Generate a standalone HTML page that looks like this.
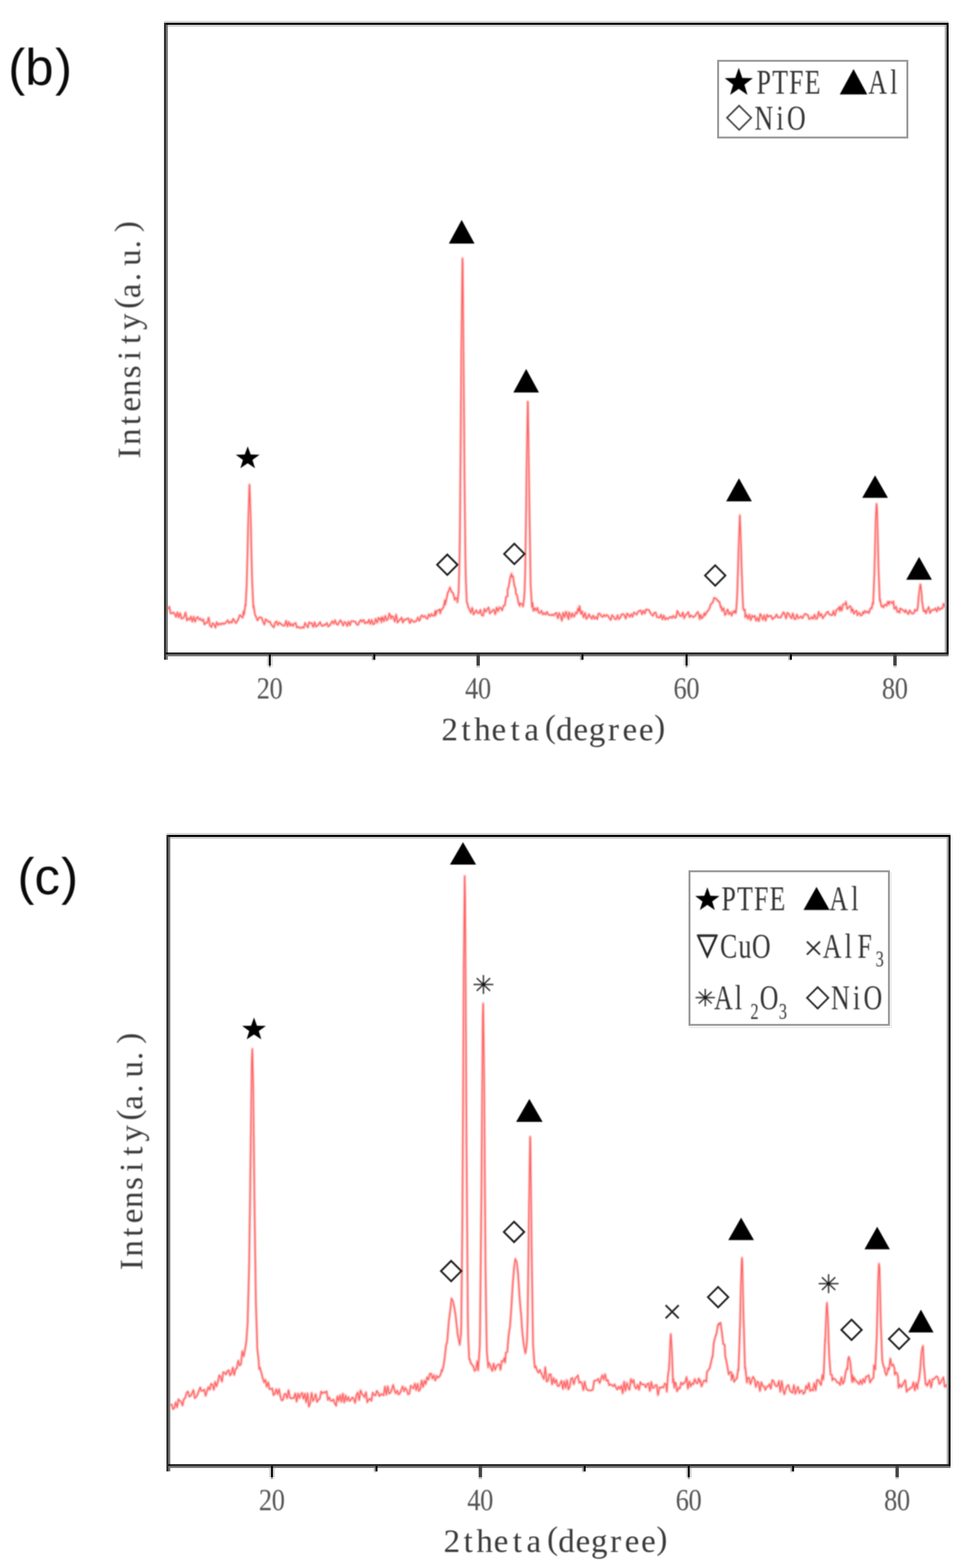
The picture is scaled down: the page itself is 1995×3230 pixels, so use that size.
<!DOCTYPE html>
<html lang="en"><head><meta charset="utf-8"><title>XRD patterns (b) and (c)</title>
<style>html,body{margin:0;padding:0;background:#fff}body{width:1995px;height:3230px;overflow:hidden}svg{display:block}text{white-space:pre}</style>
</head><body>
<svg width="1995" height="3230" viewBox="0 0 1995 3230" role="img" aria-label="XRD patterns, panels (b) and (c)">
<rect x="0" y="0" width="1995" height="3230" fill="#fff"/>
<defs><filter id="soft" filterUnits="userSpaceOnUse" x="0" y="0" width="1995" height="3230" color-interpolation-filters="sRGB"><feGaussianBlur stdDeviation="0.85"/></filter></defs>
<g id="chart-b">
<g filter="url(#soft)">
<path d="M346.0,1254.9L348.8,1250.3L351.6,1263.3L354.4,1263.2L357.2,1261.9L360.0,1264.3L362.8,1270.4L365.6,1261.4L368.4,1271.9L371.2,1263.0L374.0,1274.2L376.8,1273.3L379.6,1270.8L382.4,1261.6L385.2,1277.8L388.0,1273.9L390.8,1276.5L393.6,1269.9L396.4,1280.5L399.2,1270.5L402.0,1281.0L404.8,1272.8L407.6,1271.2L410.4,1276.1L413.2,1274.4L416.0,1278.5L418.8,1276.1L421.6,1286.1L424.4,1282.8L427.2,1282.8L430.0,1272.0L432.8,1288.5L435.6,1291.5L438.4,1283.9L441.2,1285.9L444.0,1292.3L446.8,1282.2L449.6,1287.3L452.4,1284.5L455.2,1286.5L458.0,1283.7L460.8,1285.5L463.6,1284.1L466.4,1281.5L469.2,1278.0L472.0,1283.4L474.8,1280.7L477.6,1282.6L480.4,1275.0L483.2,1278.8L486.0,1283.3L488.8,1279.9L491.6,1274.1L494.4,1267.2L497.2,1269.7L500.0,1271.9L502.2,1258.6L502.8,1266.7L505.6,1246.2L506.2,1247.0L508.4,1205.0L510.2,1137.8L511.2,1090.5L514.0,1001.6L514.2,998.3L516.8,1071.9L518.2,1138.7L519.6,1195.2L522.2,1251.8L522.4,1246.1L525.2,1264.3L526.2,1267.6L528.0,1271.2L530.8,1277.7L533.6,1272.7L536.4,1271.5L539.2,1272.8L542.0,1280.1L544.8,1286.1L547.6,1275.7L550.4,1278.0L553.2,1281.0L556.0,1280.5L558.8,1286.2L561.6,1289.7L564.4,1292.0L567.2,1282.4L570.0,1280.3L572.8,1287.2L575.6,1282.7L578.4,1284.9L581.2,1287.0L584.0,1288.9L586.8,1288.2L589.6,1278.9L592.4,1290.2L595.2,1281.0L598.0,1288.7L600.8,1285.1L603.6,1289.2L606.4,1284.8L609.2,1283.5L612.0,1292.7L614.8,1291.2L617.6,1293.2L620.4,1293.5L623.2,1291.8L626.0,1293.1L628.8,1283.7L631.6,1288.2L634.4,1292.1L637.2,1282.2L640.0,1283.6L642.8,1284.0L645.6,1291.6L648.4,1281.9L651.2,1290.7L654.0,1289.0L656.8,1286.1L659.6,1281.8L662.4,1288.1L665.2,1289.6L668.0,1286.7L670.8,1287.3L673.6,1283.4L676.4,1290.4L679.2,1288.4L682.0,1284.5L684.8,1280.0L687.6,1284.4L690.4,1278.0L693.2,1284.7L696.0,1286.9L698.8,1282.2L701.6,1277.9L704.4,1281.8L707.2,1288.2L710.0,1281.4L712.8,1282.8L715.6,1289.1L718.4,1281.0L721.2,1287.5L724.0,1279.7L726.8,1279.3L729.6,1280.5L732.4,1280.6L735.2,1286.3L738.0,1287.0L740.8,1280.9L743.6,1277.4L746.0,1280.5L746.4,1279.7L749.2,1277.2L752.0,1284.0L754.8,1281.5L757.6,1283.0L760.4,1277.1L763.2,1285.4L766.0,1277.1L768.8,1285.8L771.6,1284.7L774.4,1274.5L777.2,1283.0L780.0,1273.0L782.8,1276.8L785.6,1272.2L786.0,1282.0L788.4,1271.0L791.2,1280.1L794.0,1268.5L796.8,1277.6L799.6,1275.3L802.4,1264.3L805.2,1269.6L806.0,1274.5L808.0,1269.4L810.8,1271.2L813.6,1280.5L816.4,1265.9L819.2,1282.0L822.0,1278.7L824.8,1275.5L826.0,1275.7L827.6,1272.0L830.4,1282.6L833.2,1276.2L836.0,1276.8L838.8,1274.4L841.6,1273.7L844.4,1283.1L846.0,1282.2L847.2,1276.2L850.0,1278.5L852.8,1281.0L855.6,1280.6L858.4,1278.5L861.2,1272.4L864.0,1278.6L866.0,1275.9L866.8,1270.7L869.6,1267.6L872.4,1270.9L875.2,1268.8L878.0,1272.8L880.8,1274.5L883.6,1265.8L886.4,1270.0L889.2,1264.9L892.0,1268.6L894.8,1268.0L897.3,1258.0L897.6,1267.8L900.4,1258.5L903.2,1257.8L906.0,1255.4L907.3,1263.7L908.8,1256.5L911.6,1254.5L914.4,1249.5L917.2,1235.7L917.3,1246.1L920.0,1234.7L922.8,1221.2L925.6,1215.5L927.3,1210.0L928.4,1213.4L931.2,1219.5L934.0,1222.3L936.8,1233.4L937.3,1235.3L939.6,1231.7L942.4,1233.8L942.6,1240.8L945.2,1220.0L946.1,1189.3L947.3,1139.1L948.0,1080.2L949.6,892.8L950.8,722.4L953.1,532.3L953.6,542.0L956.4,868.3L956.6,893.5L957.3,986.0L959.2,1153.3L960.1,1195.6L962.0,1240.3L963.6,1244.0L964.8,1249.8L967.6,1255.6L970.4,1262.0L973.2,1252.0L976.0,1265.5L978.8,1261.5L981.6,1257.3L984.4,1262.7L987.2,1262.9L990.0,1256.8L992.8,1267.0L995.6,1268.2L998.4,1254.6L1001.2,1259.9L1004.0,1255.5L1006.8,1251.6L1009.6,1263.4L1012.4,1260.7L1015.2,1257.8L1018.0,1255.9L1020.8,1265.5L1023.6,1251.3L1026.4,1259.2L1029.1,1251.2L1029.2,1252.6L1032.0,1252.0L1034.8,1257.0L1037.6,1248.2L1040.4,1246.8L1043.2,1229.5L1046.0,1228.3L1046.1,1215.5L1048.8,1206.3L1051.6,1189.5L1054.4,1181.5L1054.6,1188.1L1057.2,1187.1L1060.0,1205.7L1062.8,1214.1L1063.1,1222.7L1065.6,1225.9L1068.4,1240.9L1071.2,1248.4L1071.6,1242.6L1074.0,1243.8L1076.8,1244.8L1078.0,1249.6L1079.6,1236.3L1080.1,1233.2L1081.2,1216.4L1082.4,1179.7L1084.5,1040.7L1085.2,973.3L1087.7,827.9L1088.0,828.2L1090.8,1028.4L1091.0,1041.6L1093.6,1204.2L1094.2,1214.5L1096.4,1250.9L1097.5,1241.2L1099.2,1258.4L1102.0,1252.7L1104.8,1257.5L1107.6,1252.3L1110.4,1262.1L1113.2,1262.6L1116.0,1258.3L1118.8,1265.4L1121.6,1263.0L1124.4,1265.7L1127.2,1260.8L1130.0,1266.0L1132.8,1266.7L1135.6,1267.5L1138.4,1265.8L1141.2,1267.8L1144.0,1264.0L1146.8,1262.7L1149.6,1273.8L1152.4,1263.4L1155.2,1268.3L1158.0,1278.6L1160.8,1262.0L1163.6,1271.6L1166.4,1260.1L1169.2,1267.8L1172.0,1275.9L1172.5,1261.3L1174.8,1264.9L1177.6,1271.5L1179.5,1263.7L1180.4,1265.2L1183.2,1270.0L1186.0,1263.7L1186.5,1261.9L1188.8,1263.7L1191.6,1252.9L1193.5,1260.1L1194.4,1248.3L1197.2,1263.9L1200.0,1259.9L1200.5,1264.4L1202.8,1271.9L1205.6,1262.3L1207.5,1270.8L1208.4,1274.5L1211.2,1271.9L1214.0,1265.7L1214.5,1267.4L1216.8,1270.5L1219.6,1274.3L1222.4,1268.3L1225.2,1274.2L1228.0,1270.8L1230.8,1275.0L1233.6,1264.1L1236.4,1264.5L1239.2,1268.8L1242.0,1271.0L1244.8,1266.7L1247.6,1269.5L1250.4,1266.7L1253.2,1269.0L1256.0,1273.7L1258.8,1276.8L1261.6,1267.4L1264.4,1270.5L1267.2,1275.1L1270.0,1275.5L1272.8,1267.6L1275.6,1275.1L1278.4,1272.2L1281.2,1265.6L1284.0,1265.2L1286.8,1267.2L1289.6,1274.4L1292.4,1264.1L1295.2,1266.6L1298.0,1270.3L1300.8,1265.4L1303.6,1270.2L1306.4,1261.9L1309.2,1263.3L1312.0,1266.0L1314.8,1260.6L1317.6,1258.2L1320.4,1257.8L1323.2,1264.9L1326.0,1258.3L1328.8,1263.4L1331.6,1255.6L1334.4,1256.2L1337.2,1256.8L1340.0,1261.6L1342.8,1266.0L1345.6,1268.3L1348.4,1262.5L1351.2,1261.8L1354.0,1271.3L1356.8,1271.5L1359.6,1272.0L1362.4,1266.6L1365.2,1275.2L1368.0,1268.3L1370.8,1275.9L1373.6,1273.0L1376.4,1275.2L1379.2,1272.4L1382.0,1270.7L1384.8,1272.9L1387.6,1268.8L1390.4,1272.2L1393.2,1271.8L1396.0,1258.9L1398.8,1263.6L1401.6,1268.5L1404.4,1269.0L1407.2,1261.6L1410.0,1273.7L1412.8,1266.9L1415.6,1264.8L1418.4,1261.1L1421.2,1271.0L1424.0,1267.8L1426.8,1269.9L1429.6,1271.1L1432.4,1268.6L1435.2,1264.4L1438.0,1260.9L1440.8,1267.0L1442.0,1275.6L1443.6,1266.3L1446.4,1273.5L1449.2,1270.1L1452.0,1262.5L1453.0,1267.4L1454.8,1264.1L1457.6,1259.4L1460.4,1256.4L1463.2,1251.2L1464.0,1246.9L1466.0,1243.3L1468.8,1241.5L1471.6,1231.9L1474.4,1232.9L1475.0,1232.5L1477.2,1235.0L1480.0,1238.3L1482.8,1239.9L1485.6,1252.4L1486.0,1248.6L1488.4,1257.9L1491.2,1252.4L1494.0,1266.5L1496.8,1264.0L1497.0,1260.3L1499.6,1255.8L1502.4,1264.8L1505.2,1261.5L1508.0,1267.8L1510.8,1260.0L1513.6,1261.5L1514.2,1257.5L1516.4,1263.0L1517.7,1251.7L1519.2,1228.3L1521.2,1166.2L1522.0,1136.9L1524.7,1063.8L1524.8,1061.6L1527.6,1138.1L1528.2,1163.8L1530.4,1226.8L1531.7,1253.8L1533.2,1256.9L1535.2,1256.0L1536.0,1271.6L1538.8,1266.8L1541.6,1274.9L1544.4,1266.1L1547.2,1277.6L1550.0,1268.3L1552.8,1271.2L1555.6,1268.6L1558.4,1278.3L1561.2,1273.1L1564.0,1279.6L1566.8,1265.2L1569.6,1269.4L1572.4,1276.7L1575.2,1267.2L1578.0,1278.6L1580.8,1266.8L1583.6,1270.5L1586.4,1268.7L1589.2,1268.7L1592.0,1275.4L1594.8,1272.4L1597.6,1271.3L1600.4,1266.1L1603.2,1271.7L1606.0,1271.6L1608.8,1272.1L1611.6,1266.9L1614.4,1261.6L1617.2,1264.4L1620.0,1274.1L1622.8,1262.6L1625.6,1264.6L1628.4,1269.7L1631.2,1273.4L1634.0,1263.5L1636.8,1274.6L1639.6,1275.3L1642.4,1265.9L1645.2,1273.3L1648.0,1271.9L1650.8,1269.7L1653.6,1273.3L1656.4,1268.6L1659.2,1264.5L1662.0,1265.7L1664.8,1266.9L1667.6,1274.8L1670.4,1274.5L1673.2,1271.1L1676.0,1274.3L1678.8,1266.2L1681.6,1274.7L1684.4,1273.7L1687.2,1260.3L1690.0,1268.7L1692.8,1265.2L1695.6,1273.3L1698.4,1269.5L1701.2,1266.0L1704.0,1261.6L1706.8,1260.4L1707.0,1262.8L1709.6,1265.7L1712.4,1267.1L1715.2,1266.9L1718.0,1258.3L1719.0,1265.1L1720.8,1267.2L1723.6,1257.1L1726.4,1254.8L1729.2,1251.4L1731.0,1258.6L1732.0,1248.9L1734.8,1257.8L1737.6,1245.0L1740.4,1244.2L1743.0,1244.9L1743.2,1239.3L1746.0,1254.0L1748.8,1251.5L1751.6,1248.6L1754.4,1252.1L1755.0,1260.7L1757.2,1254.3L1760.0,1263.8L1762.8,1259.4L1765.6,1258.4L1767.0,1267.0L1768.4,1264.7L1771.2,1262.5L1774.0,1267.9L1776.8,1266.3L1779.0,1260.1L1779.6,1264.4L1782.4,1258.4L1785.2,1261.7L1788.0,1259.8L1790.8,1262.7L1793.6,1254.1L1796.0,1251.8L1796.4,1253.9L1799.0,1240.1L1799.2,1240.8L1799.5,1244.8L1802.0,1183.4L1803.0,1146.1L1804.8,1071.2L1806.5,1037.8L1807.6,1049.6L1810.0,1146.3L1810.4,1167.0L1813.2,1237.9L1813.5,1234.0L1816.0,1246.4L1817.0,1249.4L1818.8,1248.4L1821.0,1251.0L1821.6,1247.1L1824.4,1245.6L1827.2,1247.8L1830.0,1239.0L1832.0,1245.5L1832.8,1239.8L1835.6,1239.8L1838.4,1242.9L1841.2,1239.2L1843.0,1253.1L1844.0,1254.1L1846.8,1250.0L1849.6,1260.6L1852.4,1258.8L1854.0,1262.4L1855.2,1253.7L1858.0,1254.7L1860.8,1257.0L1863.6,1258.9L1865.0,1260.9L1866.4,1256.9L1869.2,1261.7L1872.0,1264.9L1874.8,1257.5L1877.6,1261.9L1880.4,1264.1L1883.2,1263.1L1886.0,1256.2L1887.0,1258.2L1888.8,1257.4L1890.3,1257.2L1891.6,1250.1L1893.5,1227.6L1894.4,1220.8L1896.8,1203.6L1897.2,1204.8L1900.0,1230.1L1900.0,1236.2L1902.8,1253.9L1903.3,1258.3L1905.6,1259.7L1906.5,1256.6L1908.4,1263.0L1911.2,1256.4L1914.0,1251.0L1916.8,1262.4L1919.6,1257.9L1922.4,1256.0L1925.2,1256.6L1928.0,1253.2L1930.8,1259.2L1933.6,1251.4L1936.4,1256.2L1939.2,1252.9L1942.0,1253.2L1944.8,1244.0L1947.6,1250.8" fill="none" stroke="#ff6060" stroke-opacity="0.34" stroke-width="6.5" stroke-linejoin="round" stroke-linecap="butt"/>
<path d="M346.0,1254.9L348.8,1250.3L351.6,1263.3L354.4,1263.2L357.2,1261.9L360.0,1264.3L362.8,1270.4L365.6,1261.4L368.4,1271.9L371.2,1263.0L374.0,1274.2L376.8,1273.3L379.6,1270.8L382.4,1261.6L385.2,1277.8L388.0,1273.9L390.8,1276.5L393.6,1269.9L396.4,1280.5L399.2,1270.5L402.0,1281.0L404.8,1272.8L407.6,1271.2L410.4,1276.1L413.2,1274.4L416.0,1278.5L418.8,1276.1L421.6,1286.1L424.4,1282.8L427.2,1282.8L430.0,1272.0L432.8,1288.5L435.6,1291.5L438.4,1283.9L441.2,1285.9L444.0,1292.3L446.8,1282.2L449.6,1287.3L452.4,1284.5L455.2,1286.5L458.0,1283.7L460.8,1285.5L463.6,1284.1L466.4,1281.5L469.2,1278.0L472.0,1283.4L474.8,1280.7L477.6,1282.6L480.4,1275.0L483.2,1278.8L486.0,1283.3L488.8,1279.9L491.6,1274.1L494.4,1267.2L497.2,1269.7L500.0,1271.9L502.2,1258.6L502.8,1266.7L505.6,1246.2L506.2,1247.0L508.4,1205.0L510.2,1137.8L511.2,1090.5L514.0,1001.6L514.2,998.3L516.8,1071.9L518.2,1138.7L519.6,1195.2L522.2,1251.8L522.4,1246.1L525.2,1264.3L526.2,1267.6L528.0,1271.2L530.8,1277.7L533.6,1272.7L536.4,1271.5L539.2,1272.8L542.0,1280.1L544.8,1286.1L547.6,1275.7L550.4,1278.0L553.2,1281.0L556.0,1280.5L558.8,1286.2L561.6,1289.7L564.4,1292.0L567.2,1282.4L570.0,1280.3L572.8,1287.2L575.6,1282.7L578.4,1284.9L581.2,1287.0L584.0,1288.9L586.8,1288.2L589.6,1278.9L592.4,1290.2L595.2,1281.0L598.0,1288.7L600.8,1285.1L603.6,1289.2L606.4,1284.8L609.2,1283.5L612.0,1292.7L614.8,1291.2L617.6,1293.2L620.4,1293.5L623.2,1291.8L626.0,1293.1L628.8,1283.7L631.6,1288.2L634.4,1292.1L637.2,1282.2L640.0,1283.6L642.8,1284.0L645.6,1291.6L648.4,1281.9L651.2,1290.7L654.0,1289.0L656.8,1286.1L659.6,1281.8L662.4,1288.1L665.2,1289.6L668.0,1286.7L670.8,1287.3L673.6,1283.4L676.4,1290.4L679.2,1288.4L682.0,1284.5L684.8,1280.0L687.6,1284.4L690.4,1278.0L693.2,1284.7L696.0,1286.9L698.8,1282.2L701.6,1277.9L704.4,1281.8L707.2,1288.2L710.0,1281.4L712.8,1282.8L715.6,1289.1L718.4,1281.0L721.2,1287.5L724.0,1279.7L726.8,1279.3L729.6,1280.5L732.4,1280.6L735.2,1286.3L738.0,1287.0L740.8,1280.9L743.6,1277.4L746.0,1280.5L746.4,1279.7L749.2,1277.2L752.0,1284.0L754.8,1281.5L757.6,1283.0L760.4,1277.1L763.2,1285.4L766.0,1277.1L768.8,1285.8L771.6,1284.7L774.4,1274.5L777.2,1283.0L780.0,1273.0L782.8,1276.8L785.6,1272.2L786.0,1282.0L788.4,1271.0L791.2,1280.1L794.0,1268.5L796.8,1277.6L799.6,1275.3L802.4,1264.3L805.2,1269.6L806.0,1274.5L808.0,1269.4L810.8,1271.2L813.6,1280.5L816.4,1265.9L819.2,1282.0L822.0,1278.7L824.8,1275.5L826.0,1275.7L827.6,1272.0L830.4,1282.6L833.2,1276.2L836.0,1276.8L838.8,1274.4L841.6,1273.7L844.4,1283.1L846.0,1282.2L847.2,1276.2L850.0,1278.5L852.8,1281.0L855.6,1280.6L858.4,1278.5L861.2,1272.4L864.0,1278.6L866.0,1275.9L866.8,1270.7L869.6,1267.6L872.4,1270.9L875.2,1268.8L878.0,1272.8L880.8,1274.5L883.6,1265.8L886.4,1270.0L889.2,1264.9L892.0,1268.6L894.8,1268.0L897.3,1258.0L897.6,1267.8L900.4,1258.5L903.2,1257.8L906.0,1255.4L907.3,1263.7L908.8,1256.5L911.6,1254.5L914.4,1249.5L917.2,1235.7L917.3,1246.1L920.0,1234.7L922.8,1221.2L925.6,1215.5L927.3,1210.0L928.4,1213.4L931.2,1219.5L934.0,1222.3L936.8,1233.4L937.3,1235.3L939.6,1231.7L942.4,1233.8L942.6,1240.8L945.2,1220.0L946.1,1189.3L947.3,1139.1L948.0,1080.2L949.6,892.8L950.8,722.4L953.1,532.3L953.6,542.0L956.4,868.3L956.6,893.5L957.3,986.0L959.2,1153.3L960.1,1195.6L962.0,1240.3L963.6,1244.0L964.8,1249.8L967.6,1255.6L970.4,1262.0L973.2,1252.0L976.0,1265.5L978.8,1261.5L981.6,1257.3L984.4,1262.7L987.2,1262.9L990.0,1256.8L992.8,1267.0L995.6,1268.2L998.4,1254.6L1001.2,1259.9L1004.0,1255.5L1006.8,1251.6L1009.6,1263.4L1012.4,1260.7L1015.2,1257.8L1018.0,1255.9L1020.8,1265.5L1023.6,1251.3L1026.4,1259.2L1029.1,1251.2L1029.2,1252.6L1032.0,1252.0L1034.8,1257.0L1037.6,1248.2L1040.4,1246.8L1043.2,1229.5L1046.0,1228.3L1046.1,1215.5L1048.8,1206.3L1051.6,1189.5L1054.4,1181.5L1054.6,1188.1L1057.2,1187.1L1060.0,1205.7L1062.8,1214.1L1063.1,1222.7L1065.6,1225.9L1068.4,1240.9L1071.2,1248.4L1071.6,1242.6L1074.0,1243.8L1076.8,1244.8L1078.0,1249.6L1079.6,1236.3L1080.1,1233.2L1081.2,1216.4L1082.4,1179.7L1084.5,1040.7L1085.2,973.3L1087.7,827.9L1088.0,828.2L1090.8,1028.4L1091.0,1041.6L1093.6,1204.2L1094.2,1214.5L1096.4,1250.9L1097.5,1241.2L1099.2,1258.4L1102.0,1252.7L1104.8,1257.5L1107.6,1252.3L1110.4,1262.1L1113.2,1262.6L1116.0,1258.3L1118.8,1265.4L1121.6,1263.0L1124.4,1265.7L1127.2,1260.8L1130.0,1266.0L1132.8,1266.7L1135.6,1267.5L1138.4,1265.8L1141.2,1267.8L1144.0,1264.0L1146.8,1262.7L1149.6,1273.8L1152.4,1263.4L1155.2,1268.3L1158.0,1278.6L1160.8,1262.0L1163.6,1271.6L1166.4,1260.1L1169.2,1267.8L1172.0,1275.9L1172.5,1261.3L1174.8,1264.9L1177.6,1271.5L1179.5,1263.7L1180.4,1265.2L1183.2,1270.0L1186.0,1263.7L1186.5,1261.9L1188.8,1263.7L1191.6,1252.9L1193.5,1260.1L1194.4,1248.3L1197.2,1263.9L1200.0,1259.9L1200.5,1264.4L1202.8,1271.9L1205.6,1262.3L1207.5,1270.8L1208.4,1274.5L1211.2,1271.9L1214.0,1265.7L1214.5,1267.4L1216.8,1270.5L1219.6,1274.3L1222.4,1268.3L1225.2,1274.2L1228.0,1270.8L1230.8,1275.0L1233.6,1264.1L1236.4,1264.5L1239.2,1268.8L1242.0,1271.0L1244.8,1266.7L1247.6,1269.5L1250.4,1266.7L1253.2,1269.0L1256.0,1273.7L1258.8,1276.8L1261.6,1267.4L1264.4,1270.5L1267.2,1275.1L1270.0,1275.5L1272.8,1267.6L1275.6,1275.1L1278.4,1272.2L1281.2,1265.6L1284.0,1265.2L1286.8,1267.2L1289.6,1274.4L1292.4,1264.1L1295.2,1266.6L1298.0,1270.3L1300.8,1265.4L1303.6,1270.2L1306.4,1261.9L1309.2,1263.3L1312.0,1266.0L1314.8,1260.6L1317.6,1258.2L1320.4,1257.8L1323.2,1264.9L1326.0,1258.3L1328.8,1263.4L1331.6,1255.6L1334.4,1256.2L1337.2,1256.8L1340.0,1261.6L1342.8,1266.0L1345.6,1268.3L1348.4,1262.5L1351.2,1261.8L1354.0,1271.3L1356.8,1271.5L1359.6,1272.0L1362.4,1266.6L1365.2,1275.2L1368.0,1268.3L1370.8,1275.9L1373.6,1273.0L1376.4,1275.2L1379.2,1272.4L1382.0,1270.7L1384.8,1272.9L1387.6,1268.8L1390.4,1272.2L1393.2,1271.8L1396.0,1258.9L1398.8,1263.6L1401.6,1268.5L1404.4,1269.0L1407.2,1261.6L1410.0,1273.7L1412.8,1266.9L1415.6,1264.8L1418.4,1261.1L1421.2,1271.0L1424.0,1267.8L1426.8,1269.9L1429.6,1271.1L1432.4,1268.6L1435.2,1264.4L1438.0,1260.9L1440.8,1267.0L1442.0,1275.6L1443.6,1266.3L1446.4,1273.5L1449.2,1270.1L1452.0,1262.5L1453.0,1267.4L1454.8,1264.1L1457.6,1259.4L1460.4,1256.4L1463.2,1251.2L1464.0,1246.9L1466.0,1243.3L1468.8,1241.5L1471.6,1231.9L1474.4,1232.9L1475.0,1232.5L1477.2,1235.0L1480.0,1238.3L1482.8,1239.9L1485.6,1252.4L1486.0,1248.6L1488.4,1257.9L1491.2,1252.4L1494.0,1266.5L1496.8,1264.0L1497.0,1260.3L1499.6,1255.8L1502.4,1264.8L1505.2,1261.5L1508.0,1267.8L1510.8,1260.0L1513.6,1261.5L1514.2,1257.5L1516.4,1263.0L1517.7,1251.7L1519.2,1228.3L1521.2,1166.2L1522.0,1136.9L1524.7,1063.8L1524.8,1061.6L1527.6,1138.1L1528.2,1163.8L1530.4,1226.8L1531.7,1253.8L1533.2,1256.9L1535.2,1256.0L1536.0,1271.6L1538.8,1266.8L1541.6,1274.9L1544.4,1266.1L1547.2,1277.6L1550.0,1268.3L1552.8,1271.2L1555.6,1268.6L1558.4,1278.3L1561.2,1273.1L1564.0,1279.6L1566.8,1265.2L1569.6,1269.4L1572.4,1276.7L1575.2,1267.2L1578.0,1278.6L1580.8,1266.8L1583.6,1270.5L1586.4,1268.7L1589.2,1268.7L1592.0,1275.4L1594.8,1272.4L1597.6,1271.3L1600.4,1266.1L1603.2,1271.7L1606.0,1271.6L1608.8,1272.1L1611.6,1266.9L1614.4,1261.6L1617.2,1264.4L1620.0,1274.1L1622.8,1262.6L1625.6,1264.6L1628.4,1269.7L1631.2,1273.4L1634.0,1263.5L1636.8,1274.6L1639.6,1275.3L1642.4,1265.9L1645.2,1273.3L1648.0,1271.9L1650.8,1269.7L1653.6,1273.3L1656.4,1268.6L1659.2,1264.5L1662.0,1265.7L1664.8,1266.9L1667.6,1274.8L1670.4,1274.5L1673.2,1271.1L1676.0,1274.3L1678.8,1266.2L1681.6,1274.7L1684.4,1273.7L1687.2,1260.3L1690.0,1268.7L1692.8,1265.2L1695.6,1273.3L1698.4,1269.5L1701.2,1266.0L1704.0,1261.6L1706.8,1260.4L1707.0,1262.8L1709.6,1265.7L1712.4,1267.1L1715.2,1266.9L1718.0,1258.3L1719.0,1265.1L1720.8,1267.2L1723.6,1257.1L1726.4,1254.8L1729.2,1251.4L1731.0,1258.6L1732.0,1248.9L1734.8,1257.8L1737.6,1245.0L1740.4,1244.2L1743.0,1244.9L1743.2,1239.3L1746.0,1254.0L1748.8,1251.5L1751.6,1248.6L1754.4,1252.1L1755.0,1260.7L1757.2,1254.3L1760.0,1263.8L1762.8,1259.4L1765.6,1258.4L1767.0,1267.0L1768.4,1264.7L1771.2,1262.5L1774.0,1267.9L1776.8,1266.3L1779.0,1260.1L1779.6,1264.4L1782.4,1258.4L1785.2,1261.7L1788.0,1259.8L1790.8,1262.7L1793.6,1254.1L1796.0,1251.8L1796.4,1253.9L1799.0,1240.1L1799.2,1240.8L1799.5,1244.8L1802.0,1183.4L1803.0,1146.1L1804.8,1071.2L1806.5,1037.8L1807.6,1049.6L1810.0,1146.3L1810.4,1167.0L1813.2,1237.9L1813.5,1234.0L1816.0,1246.4L1817.0,1249.4L1818.8,1248.4L1821.0,1251.0L1821.6,1247.1L1824.4,1245.6L1827.2,1247.8L1830.0,1239.0L1832.0,1245.5L1832.8,1239.8L1835.6,1239.8L1838.4,1242.9L1841.2,1239.2L1843.0,1253.1L1844.0,1254.1L1846.8,1250.0L1849.6,1260.6L1852.4,1258.8L1854.0,1262.4L1855.2,1253.7L1858.0,1254.7L1860.8,1257.0L1863.6,1258.9L1865.0,1260.9L1866.4,1256.9L1869.2,1261.7L1872.0,1264.9L1874.8,1257.5L1877.6,1261.9L1880.4,1264.1L1883.2,1263.1L1886.0,1256.2L1887.0,1258.2L1888.8,1257.4L1890.3,1257.2L1891.6,1250.1L1893.5,1227.6L1894.4,1220.8L1896.8,1203.6L1897.2,1204.8L1900.0,1230.1L1900.0,1236.2L1902.8,1253.9L1903.3,1258.3L1905.6,1259.7L1906.5,1256.6L1908.4,1263.0L1911.2,1256.4L1914.0,1251.0L1916.8,1262.4L1919.6,1257.9L1922.4,1256.0L1925.2,1256.6L1928.0,1253.2L1930.8,1259.2L1933.6,1251.4L1936.4,1256.2L1939.2,1252.9L1942.0,1253.2L1944.8,1244.0L1947.6,1250.8" fill="none" stroke="#ff3030" stroke-opacity="0.68" stroke-width="2.2" stroke-linejoin="miter" stroke-miterlimit="3" stroke-linecap="butt"/>
</g>
<rect x="338" y="43" width="1617" height="4" fill="#d6d6d6"/>
<rect x="346" y="51" width="1601" height="4" fill="#d0d0d0"/>
<rect x="338" y="47" width="1617" height="4" fill="#000"/>
<rect x="1947" y="51" width="4" height="1293" fill="#adadad"/>
<rect x="1955" y="47" width="4" height="1305" fill="#f5f5f5"/>
<rect x="1951" y="47" width="4" height="1305" fill="#000"/>
<rect x="338" y="1348" width="1617" height="4" fill="#787878"/>
<rect x="338" y="1344" width="1613" height="4" fill="#2a2a2a"/>
<rect x="342" y="51" width="4" height="1308" fill="#787878"/>
<rect x="338" y="47" width="4" height="1312" fill="#2d2d2d"/>
<rect x="342" y="1344" width="4" height="4" fill="#111"/>
<rect x="550" y="1352" width="12" height="19" fill="#d8d8d8"/>
<rect x="550" y="1371" width="12" height="4" fill="#f2f2f2"/>
<rect x="554" y="1348" width="4" height="23" fill="#000"/>
<rect x="554" y="1371" width="4" height="4" fill="#aaa"/>
<rect x="982" y="1348" width="7" height="23" fill="#444"/>
<rect x="982" y="1371" width="7" height="4" fill="#ccc"/>
<rect x="1409" y="1352" width="12" height="19" fill="#d8d8d8"/>
<rect x="1409" y="1371" width="12" height="4" fill="#f2f2f2"/>
<rect x="1413" y="1348" width="4" height="23" fill="#000"/>
<rect x="1413" y="1371" width="4" height="4" fill="#aaa"/>
<rect x="1841" y="1348" width="7" height="23" fill="#444"/>
<rect x="1841" y="1371" width="7" height="4" fill="#ccc"/>
<rect x="766" y="1352" width="4" height="7" fill="#aaa"/>
<rect x="769.5" y="1348" width="4" height="11" fill="#000"/>
<rect x="766" y="1359" width="7" height="3" fill="#e4e4e4"/>
<rect x="1195" y="1352" width="4" height="7" fill="#aaa"/>
<rect x="1198.5" y="1348" width="4" height="11" fill="#000"/>
<rect x="1195" y="1359" width="7" height="3" fill="#e4e4e4"/>
<rect x="1624.5" y="1352" width="4" height="7" fill="#aaa"/>
<rect x="1628" y="1348" width="4" height="11" fill="#000"/>
<rect x="1624.5" y="1359" width="7" height="3" fill="#e4e4e4"/>
<rect x="1480" y="125.3" width="390" height="158" fill="#fff" stroke="#999" stroke-width="4"/>
<g filter="url(#soft)">
<text transform="translate(0,1438.5) scale(0.86,1)" x="630.93 661.86" y="0" font-family='"Liberation Serif", "DejaVu Serif", serif' font-size="63.5" fill="#555" text-anchor="middle">20</text>
<text transform="translate(0,1438.5) scale(0.86,1)" x="1130.35 1161.28" y="0" font-family='"Liberation Serif", "DejaVu Serif", serif' font-size="63.5" fill="#555" text-anchor="middle">40</text>
<text transform="translate(0,1438.5) scale(0.86,1)" x="1629.77 1660.70" y="0" font-family='"Liberation Serif", "DejaVu Serif", serif' font-size="63.5" fill="#555" text-anchor="middle">60</text>
<text transform="translate(0,1438.5) scale(0.86,1)" x="2129.19 2160.12" y="0" font-family='"Liberation Serif", "DejaVu Serif", serif' font-size="63.5" fill="#555" text-anchor="middle">80</text>
<text transform="translate(0,1524.5) scale(1,1)" x="926.70 960.46 994.22 1027.98 1061.74 1095.50 1134.26 1163.02 1196.78 1230.54 1264.30 1298.06 1331.82 1359.58" y="0 0 0 0 0 0 -6 0 0 0 0 0 0 -6" font-family='"Liberation Serif", "DejaVu Serif", serif' font-size="68" fill="#3a3a3a" text-anchor="middle">2theta(degree)</text>
<text transform="translate(288.7,949.7) rotate(-90) scale(1,1)" x="16.70 50.10 83.50 116.90 150.30 183.70 217.10 250.50 286.90 324.80 350.70 379.10 419.00 446.40 482.80" y="0 0 0 0 0 0 0 0 0 -6 0 0 0 0 -6" font-family='"Liberation Serif", "DejaVu Serif", serif' font-size="68" fill="#3a3a3a" text-anchor="middle">Intensity(a.u.)</text>
<polygon points="1522.6,139.6 1529.8,160.5 1551.6,161.0 1534.2,174.4 1540.5,195.6 1522.6,182.9 1504.7,195.6 1511.0,174.4 1493.6,161.0 1515.4,160.5" fill="#000"/>
<text transform="translate(0,193) scale(0.74,1)" x="2127.30 2172.57 2217.84 2263.11" y="0" font-family='"Liberation Serif", "DejaVu Serif", serif' font-size="72" fill="#333" text-anchor="middle">PTFE</text>
<polygon points="1759.1,142.2 1787.4,194.6 1730.7,194.6" fill="#000"/>
<text transform="translate(0,193) scale(0.74,1)" x="2444.19 2489.46" y="0" font-family='"Liberation Serif", "DejaVu Serif", serif' font-size="72" fill="#333" text-anchor="middle">Al</text>
<polygon points="1523.3,217.6 1548.3,242.6 1523.3,267.6 1498.3,242.6" fill="none" stroke="#333" stroke-width="3.2" stroke-linejoin="miter"/>
<text transform="translate(0,267.3) scale(0.74,1)" x="2127.30 2172.57 2217.84" y="0" font-family='"Liberation Serif", "DejaVu Serif", serif' font-size="72" fill="#333" text-anchor="middle">NiO</text>
<polygon points="510.5,919.5 516.6,936.3 535.0,936.7 520.3,947.5 525.6,964.5 510.5,954.3 495.4,964.5 500.7,947.5 486.0,936.7 504.4,936.3" fill="#000"/>
<polygon points="951.5,453.0 978.0,501.7 925.0,501.7" fill="#000"/>
<polygon points="1084.4,760.0 1110.8,808.6 1058.0,808.6" fill="#000"/>
<polygon points="1523.0,985.2 1549.5,1032.8 1496.6,1032.8" fill="#000"/>
<polygon points="1803.5,979.2 1830.0,1025.5 1777.0,1025.5" fill="#000"/>
<polygon points="1894.2,1147.2 1920.6,1194.2 1867.7,1194.2" fill="#000"/>
<polygon points="921.9,1142.3 942.9,1163.3 921.9,1184.3 900.9,1163.3" fill="none" stroke="#1c1c1c" stroke-width="3.8" stroke-linejoin="miter"/>
<polygon points="1060.0,1120.0 1081.0,1141.0 1060.0,1162.0 1039.0,1141.0" fill="none" stroke="#1c1c1c" stroke-width="3.8" stroke-linejoin="miter"/>
<polygon points="1474.0,1164.5 1495.0,1185.5 1474.0,1206.5 1453.0,1185.5" fill="none" stroke="#1c1c1c" stroke-width="3.8" stroke-linejoin="miter"/>
<text x="17 52 113.5" y="175" font-family='"Liberation Sans", "DejaVu Sans", sans-serif' font-size="105" fill="#0a0a0a">(b)</text>
</g>
</g>
<g id="chart-c">
<g filter="url(#soft)">
<path d="M351.0,2893.7L353.8,2893.6L356.6,2902.5L359.4,2900.1L362.2,2888.5L365.0,2899.0L367.8,2882.8L370.6,2886.0L373.4,2887.8L376.2,2895.2L379.0,2882.1L381.8,2879.5L384.6,2868.9L387.4,2866.8L390.2,2876.6L393.0,2875.1L395.8,2870.7L398.6,2863.3L401.4,2879.7L404.2,2877.5L407.0,2873.1L409.8,2865.5L412.6,2858.5L415.4,2865.2L418.2,2865.0L421.0,2862.9L423.8,2875.3L426.6,2865.4L429.4,2857.7L432.2,2862.4L435.0,2850.8L437.8,2852.3L440.6,2862.9L443.4,2846.3L446.2,2855.9L449.0,2846.6L451.8,2833.4L454.6,2835.6L457.4,2846.0L460.2,2826.9L463.0,2827.7L465.8,2830.9L468.6,2824.5L471.4,2822.9L474.2,2833.0L477.0,2829.0L479.8,2816.9L482.6,2832.4L485.4,2820.2L488.2,2818.1L491.0,2802.7L493.8,2812.7L496.6,2809.9L499.4,2783.2L502.2,2794.2L505.0,2779.4L505.8,2775.4L507.8,2762.3L510.5,2722.9L510.6,2713.8L513.4,2610.0L515.2,2483.1L516.2,2402.2L519.0,2184.4L520.0,2160.7L521.8,2238.5L524.6,2489.9L524.8,2502.5L527.4,2685.6L529.5,2749.5L530.2,2778.0L533.0,2801.5L534.2,2820.5L535.8,2817.7L538.6,2827.5L541.4,2838.9L544.2,2847.3L547.0,2842.0L549.8,2856.7L552.6,2847.3L555.4,2861.3L558.2,2861.2L561.0,2860.2L563.8,2873.6L566.6,2870.6L569.4,2861.8L572.2,2871.9L575.0,2861.5L577.8,2876.8L580.6,2884.6L583.4,2883.2L586.2,2871.8L589.0,2871.5L591.8,2880.3L594.6,2863.7L597.4,2878.4L600.2,2880.7L603.0,2879.8L605.8,2879.8L608.6,2870.1L611.4,2887.4L614.2,2870.5L617.0,2880.2L619.8,2872.1L622.6,2869.5L625.4,2881.7L628.2,2870.6L631.0,2888.8L633.8,2870.0L636.6,2897.6L639.4,2889.6L642.2,2869.3L645.0,2885.5L647.8,2880.9L650.6,2871.9L653.4,2887.5L656.2,2883.1L659.0,2881.2L661.8,2867.0L664.6,2870.2L667.4,2867.7L670.2,2868.8L673.0,2866.3L675.8,2883.3L678.6,2878.7L681.4,2885.3L684.2,2885.6L687.0,2883.2L689.8,2890.5L692.6,2895.2L695.4,2876.2L698.2,2886.1L701.0,2873.9L703.8,2887.9L706.6,2870.8L709.4,2889.2L712.2,2874.4L715.0,2885.4L717.8,2878.1L720.6,2885.8L723.4,2883.0L726.2,2878.8L729.0,2881.2L731.8,2889.9L734.6,2873.5L737.4,2868.3L740.2,2884.3L743.0,2863.9L745.8,2871.8L748.6,2873.8L751.4,2878.1L754.2,2867.7L757.0,2888.7L759.8,2882.9L762.6,2881.5L765.4,2885.2L768.2,2869.3L771.0,2873.6L773.8,2874.5L776.6,2865.5L779.4,2869.5L782.2,2875.8L785.0,2871.8L787.8,2872.7L790.6,2874.0L793.4,2856.1L796.2,2873.3L799.0,2855.7L801.8,2870.4L804.6,2868.7L807.4,2862.7L810.2,2852.8L813.0,2863.6L815.8,2870.0L818.6,2864.8L821.4,2872.4L824.2,2869.9L827.0,2863.3L829.8,2855.8L832.6,2865.4L835.4,2859.2L838.2,2863.4L841.0,2872.0L843.8,2870.7L846.6,2854.8L849.4,2857.8L852.2,2859.9L855.0,2850.0L857.8,2863.7L860.6,2850.5L863.4,2865.1L866.2,2861.1L869.0,2843.6L871.8,2857.4L874.6,2844.0L877.4,2851.3L880.2,2837.3L883.0,2841.5L885.8,2830.0L888.6,2829.8L891.4,2840.0L894.2,2832.6L897.0,2843.2L899.3,2838.2L899.8,2834.5L902.6,2837.6L905.4,2836.0L908.2,2830.9L910.3,2821.4L911.0,2825.2L913.8,2814.9L916.6,2796.4L919.4,2770.8L921.3,2765.6L922.2,2757.0L925.0,2721.7L927.8,2701.1L930.6,2674.7L932.3,2678.2L933.4,2680.3L936.2,2692.5L939.0,2710.2L941.8,2735.1L943.3,2749.9L944.6,2754.9L947.2,2768.4L947.4,2770.5L950.2,2746.6L950.7,2725.8L953.0,2508.8L954.2,2305.3L954.3,2285.2L955.8,1994.2L957.7,1804.4L958.6,1853.3L961.2,2313.5L961.4,2356.5L964.2,2712.2L964.7,2743.7L965.3,2763.1L967.0,2799.4L968.2,2799.9L969.8,2806.7L972.6,2810.9L975.4,2814.4L978.2,2823.6L981.0,2820.8L983.8,2803.4L985.3,2823.1L986.6,2806.0L988.8,2772.6L989.4,2733.7L992.2,2462.5L992.3,2448.0L995.0,2094.9L995.8,2067.2L997.8,2226.3L999.3,2443.8L1000.6,2614.8L1002.8,2758.3L1003.4,2784.2L1006.2,2816.8L1006.3,2806.1L1009.0,2809.9L1011.8,2816.9L1014.6,2824.2L1017.4,2808.7L1020.2,2822.1L1023.0,2814.8L1025.8,2811.7L1028.6,2810.3L1030.0,2812.0L1031.4,2821.9L1034.2,2803.7L1037.0,2804.3L1039.8,2796.5L1041.0,2807.1L1042.6,2786.6L1045.4,2784.9L1048.2,2751.6L1051.0,2732.2L1052.0,2720.1L1053.8,2695.6L1056.6,2647.2L1059.4,2612.5L1062.2,2593.1L1063.0,2596.5L1065.0,2600.0L1067.8,2624.8L1070.6,2669.6L1073.4,2703.2L1074.0,2708.0L1076.2,2740.6L1079.0,2767.0L1081.8,2781.9L1082.8,2787.8L1084.6,2776.5L1085.0,2772.0L1086.1,2762.1L1087.4,2719.9L1089.3,2570.9L1090.2,2495.1L1092.6,2341.4L1093.0,2349.2L1095.8,2580.3L1095.8,2583.1L1096.0,2597.3L1098.6,2769.5L1099.1,2776.6L1101.4,2808.9L1102.3,2816.6L1104.2,2814.7L1107.0,2823.3L1109.8,2827.4L1112.6,2822.3L1115.4,2828.4L1118.2,2834.6L1121.0,2840.9L1123.8,2816.1L1126.6,2845.7L1129.4,2843.9L1132.2,2831.2L1135.0,2831.3L1137.8,2851.8L1140.6,2838.5L1143.4,2848.3L1146.2,2842.7L1149.0,2854.8L1151.8,2855.1L1154.6,2849.9L1157.4,2844.3L1160.2,2861.4L1163.0,2845.2L1165.8,2859.0L1168.6,2842.9L1171.4,2862.1L1174.2,2855.8L1177.0,2840.2L1179.8,2838.9L1182.6,2851.5L1185.4,2839.8L1188.2,2837.2L1191.0,2833.6L1193.8,2848.3L1196.6,2846.7L1199.4,2849.0L1202.2,2863.8L1205.0,2846.0L1207.8,2859.4L1210.6,2863.1L1213.4,2864.2L1216.2,2864.1L1219.0,2864.1L1221.8,2862.3L1224.6,2844.5L1227.4,2843.8L1230.2,2843.0L1233.0,2840.4L1235.8,2849.2L1238.6,2840.6L1241.4,2832.6L1244.2,2841.8L1247.0,2830.8L1249.8,2843.9L1252.6,2843.0L1255.4,2853.2L1258.2,2851.7L1261.0,2853.3L1263.8,2855.6L1266.6,2851.8L1269.4,2857.9L1272.2,2862.0L1275.0,2856.7L1277.8,2860.5L1280.6,2854.5L1283.4,2870.2L1286.2,2846.0L1289.0,2865.0L1291.8,2848.6L1294.6,2857.6L1297.4,2862.9L1300.2,2840.7L1303.0,2848.2L1305.8,2843.2L1308.6,2857.3L1311.4,2860.2L1314.2,2852.5L1317.0,2863.0L1319.8,2847.5L1322.6,2851.7L1325.4,2851.6L1328.2,2852.4L1331.0,2857.5L1333.8,2851.4L1336.6,2849.8L1339.4,2865.6L1342.2,2846.7L1345.0,2859.0L1347.8,2858.2L1350.6,2853.7L1353.4,2853.3L1356.2,2873.7L1359.0,2858.2L1361.8,2859.1L1364.6,2857.0L1367.4,2858.1L1370.2,2850.1L1373.0,2851.8L1374.2,2867.0L1375.8,2844.8L1377.0,2830.4L1378.6,2821.1L1379.8,2802.0L1381.4,2765.8L1382.5,2748.0L1384.2,2775.2L1385.2,2795.9L1387.0,2848.1L1388.0,2840.2L1389.8,2859.0L1390.8,2848.3L1392.6,2848.9L1395.4,2866.1L1398.2,2859.4L1401.0,2860.2L1403.8,2848.3L1406.6,2852.0L1409.4,2848.7L1412.2,2847.3L1415.0,2836.6L1417.8,2860.6L1420.6,2845.1L1423.4,2855.5L1426.2,2849.7L1429.0,2851.2L1431.8,2840.7L1434.6,2848.3L1437.4,2849.5L1440.2,2839.3L1442.7,2847.8L1443.0,2843.1L1445.8,2856.1L1448.6,2848.4L1451.4,2843.7L1454.2,2843.6L1455.7,2846.8L1457.0,2826.7L1459.8,2822.1L1462.6,2818.7L1465.4,2806.6L1468.2,2793.7L1468.7,2795.4L1471.0,2767.0L1473.8,2755.0L1476.6,2747.6L1479.4,2730.3L1481.7,2726.6L1482.2,2728.6L1485.0,2725.1L1487.8,2744.6L1490.6,2768.8L1493.4,2770.0L1494.7,2794.3L1496.2,2799.7L1499.0,2814.1L1501.8,2830.7L1504.6,2826.2L1507.4,2827.3L1507.7,2842.7L1510.2,2830.9L1513.0,2846.1L1515.8,2841.8L1518.5,2838.8L1518.6,2840.4L1520.7,2825.3L1521.4,2820.8L1522.0,2821.4L1524.2,2761.1L1525.5,2715.8L1527.0,2646.7L1529.0,2590.9L1529.8,2599.0L1532.5,2723.0L1532.6,2719.7L1535.4,2819.3L1536.0,2816.7L1538.2,2836.7L1539.5,2848.2L1541.0,2838.4L1543.8,2837.9L1546.6,2851.4L1549.4,2842.1L1552.2,2836.4L1555.0,2841.1L1557.8,2857.0L1560.6,2846.0L1563.4,2848.5L1566.2,2865.6L1569.0,2847.2L1571.8,2855.0L1574.6,2855.7L1577.4,2862.8L1580.2,2856.9L1583.0,2855.7L1585.8,2851.6L1588.6,2860.8L1591.4,2843.3L1594.2,2844.8L1597.0,2852.2L1599.8,2855.6L1602.6,2854.8L1605.4,2844.7L1608.2,2867.1L1611.0,2844.8L1613.8,2862.6L1616.6,2872.2L1619.4,2861.5L1622.2,2855.0L1625.0,2853.3L1627.8,2864.0L1630.6,2867.4L1633.4,2868.9L1636.2,2853.1L1639.0,2871.3L1641.8,2863.3L1644.6,2856.8L1647.4,2869.4L1650.2,2864.7L1653.0,2864.6L1655.8,2871.1L1658.6,2868.4L1661.4,2855.2L1664.2,2860.7L1667.0,2848.9L1669.8,2865.1L1672.6,2862.2L1675.4,2864.1L1678.2,2849.1L1681.0,2864.2L1683.8,2843.0L1686.6,2843.1L1689.4,2848.0L1692.2,2853.2L1693.0,2845.7L1695.0,2831.6L1696.8,2842.1L1697.8,2827.0L1700.5,2757.4L1700.6,2763.9L1703.4,2696.1L1704.3,2683.7L1706.2,2714.7L1708.0,2767.9L1709.0,2793.8L1711.8,2831.7L1714.6,2832.3L1715.5,2843.6L1717.4,2839.3L1720.2,2840.4L1723.0,2843.8L1725.8,2848.0L1728.6,2847.8L1731.4,2852.7L1734.2,2836.9L1737.0,2850.1L1739.8,2845.9L1739.8,2844.9L1742.6,2828.2L1743.1,2825.7L1745.4,2819.0L1746.3,2821.1L1748.2,2798.1L1749.6,2795.5L1751.0,2800.9L1752.8,2808.9L1753.8,2820.4L1756.1,2846.9L1756.6,2832.4L1759.3,2846.3L1759.4,2836.9L1762.2,2841.6L1765.0,2845.3L1767.8,2848.0L1770.6,2851.1L1773.4,2843.0L1776.2,2851.5L1779.0,2841.2L1781.8,2847.2L1784.6,2836.2L1787.4,2835.1L1790.2,2833.1L1793.0,2848.1L1795.8,2842.4L1798.6,2839.9L1800.2,2837.2L1801.4,2811.8L1804.0,2821.5L1804.2,2811.7L1807.0,2752.7L1807.8,2715.9L1809.8,2638.3L1811.5,2603.2L1812.6,2612.6L1815.2,2722.9L1815.4,2727.5L1816.0,2743.7L1818.2,2800.7L1819.0,2806.5L1821.0,2814.2L1822.8,2818.3L1823.0,2818.2L1823.8,2825.0L1826.6,2833.0L1829.4,2825.0L1830.0,2818.8L1832.2,2820.9L1835.0,2798.4L1837.0,2811.7L1837.8,2812.9L1840.6,2810.6L1843.4,2818.5L1844.0,2831.8L1846.2,2827.0L1849.0,2829.5L1851.0,2837.3L1851.8,2859.0L1854.6,2852.0L1857.4,2857.1L1858.0,2856.1L1860.2,2853.0L1863.0,2847.4L1865.8,2842.9L1868.6,2867.1L1871.4,2862.1L1874.2,2862.1L1877.0,2858.4L1879.8,2858.0L1882.6,2847.2L1885.4,2864.2L1888.2,2848.9L1891.0,2860.7L1891.0,2853.5L1893.8,2841.9L1894.3,2838.8L1896.6,2820.2L1897.5,2805.9L1899.4,2784.9L1900.8,2778.2L1902.2,2772.2L1904.0,2812.6L1905.0,2821.4L1907.3,2847.5L1907.8,2851.5L1910.5,2850.7L1910.6,2855.0L1913.4,2849.6L1916.2,2842.6L1919.0,2858.2L1921.8,2841.4L1924.6,2840.7L1927.4,2837.7L1930.2,2835.3L1933.0,2837.8L1935.8,2850.6L1938.6,2848.4L1941.4,2842.1L1944.2,2837.6L1947.0,2856.3L1949.8,2853.2L1952.6,2858.1" fill="none" stroke="#ff6060" stroke-opacity="0.34" stroke-width="6.5" stroke-linejoin="round" stroke-linecap="butt"/>
<path d="M351.0,2893.7L353.8,2893.6L356.6,2902.5L359.4,2900.1L362.2,2888.5L365.0,2899.0L367.8,2882.8L370.6,2886.0L373.4,2887.8L376.2,2895.2L379.0,2882.1L381.8,2879.5L384.6,2868.9L387.4,2866.8L390.2,2876.6L393.0,2875.1L395.8,2870.7L398.6,2863.3L401.4,2879.7L404.2,2877.5L407.0,2873.1L409.8,2865.5L412.6,2858.5L415.4,2865.2L418.2,2865.0L421.0,2862.9L423.8,2875.3L426.6,2865.4L429.4,2857.7L432.2,2862.4L435.0,2850.8L437.8,2852.3L440.6,2862.9L443.4,2846.3L446.2,2855.9L449.0,2846.6L451.8,2833.4L454.6,2835.6L457.4,2846.0L460.2,2826.9L463.0,2827.7L465.8,2830.9L468.6,2824.5L471.4,2822.9L474.2,2833.0L477.0,2829.0L479.8,2816.9L482.6,2832.4L485.4,2820.2L488.2,2818.1L491.0,2802.7L493.8,2812.7L496.6,2809.9L499.4,2783.2L502.2,2794.2L505.0,2779.4L505.8,2775.4L507.8,2762.3L510.5,2722.9L510.6,2713.8L513.4,2610.0L515.2,2483.1L516.2,2402.2L519.0,2184.4L520.0,2160.7L521.8,2238.5L524.6,2489.9L524.8,2502.5L527.4,2685.6L529.5,2749.5L530.2,2778.0L533.0,2801.5L534.2,2820.5L535.8,2817.7L538.6,2827.5L541.4,2838.9L544.2,2847.3L547.0,2842.0L549.8,2856.7L552.6,2847.3L555.4,2861.3L558.2,2861.2L561.0,2860.2L563.8,2873.6L566.6,2870.6L569.4,2861.8L572.2,2871.9L575.0,2861.5L577.8,2876.8L580.6,2884.6L583.4,2883.2L586.2,2871.8L589.0,2871.5L591.8,2880.3L594.6,2863.7L597.4,2878.4L600.2,2880.7L603.0,2879.8L605.8,2879.8L608.6,2870.1L611.4,2887.4L614.2,2870.5L617.0,2880.2L619.8,2872.1L622.6,2869.5L625.4,2881.7L628.2,2870.6L631.0,2888.8L633.8,2870.0L636.6,2897.6L639.4,2889.6L642.2,2869.3L645.0,2885.5L647.8,2880.9L650.6,2871.9L653.4,2887.5L656.2,2883.1L659.0,2881.2L661.8,2867.0L664.6,2870.2L667.4,2867.7L670.2,2868.8L673.0,2866.3L675.8,2883.3L678.6,2878.7L681.4,2885.3L684.2,2885.6L687.0,2883.2L689.8,2890.5L692.6,2895.2L695.4,2876.2L698.2,2886.1L701.0,2873.9L703.8,2887.9L706.6,2870.8L709.4,2889.2L712.2,2874.4L715.0,2885.4L717.8,2878.1L720.6,2885.8L723.4,2883.0L726.2,2878.8L729.0,2881.2L731.8,2889.9L734.6,2873.5L737.4,2868.3L740.2,2884.3L743.0,2863.9L745.8,2871.8L748.6,2873.8L751.4,2878.1L754.2,2867.7L757.0,2888.7L759.8,2882.9L762.6,2881.5L765.4,2885.2L768.2,2869.3L771.0,2873.6L773.8,2874.5L776.6,2865.5L779.4,2869.5L782.2,2875.8L785.0,2871.8L787.8,2872.7L790.6,2874.0L793.4,2856.1L796.2,2873.3L799.0,2855.7L801.8,2870.4L804.6,2868.7L807.4,2862.7L810.2,2852.8L813.0,2863.6L815.8,2870.0L818.6,2864.8L821.4,2872.4L824.2,2869.9L827.0,2863.3L829.8,2855.8L832.6,2865.4L835.4,2859.2L838.2,2863.4L841.0,2872.0L843.8,2870.7L846.6,2854.8L849.4,2857.8L852.2,2859.9L855.0,2850.0L857.8,2863.7L860.6,2850.5L863.4,2865.1L866.2,2861.1L869.0,2843.6L871.8,2857.4L874.6,2844.0L877.4,2851.3L880.2,2837.3L883.0,2841.5L885.8,2830.0L888.6,2829.8L891.4,2840.0L894.2,2832.6L897.0,2843.2L899.3,2838.2L899.8,2834.5L902.6,2837.6L905.4,2836.0L908.2,2830.9L910.3,2821.4L911.0,2825.2L913.8,2814.9L916.6,2796.4L919.4,2770.8L921.3,2765.6L922.2,2757.0L925.0,2721.7L927.8,2701.1L930.6,2674.7L932.3,2678.2L933.4,2680.3L936.2,2692.5L939.0,2710.2L941.8,2735.1L943.3,2749.9L944.6,2754.9L947.2,2768.4L947.4,2770.5L950.2,2746.6L950.7,2725.8L953.0,2508.8L954.2,2305.3L954.3,2285.2L955.8,1994.2L957.7,1804.4L958.6,1853.3L961.2,2313.5L961.4,2356.5L964.2,2712.2L964.7,2743.7L965.3,2763.1L967.0,2799.4L968.2,2799.9L969.8,2806.7L972.6,2810.9L975.4,2814.4L978.2,2823.6L981.0,2820.8L983.8,2803.4L985.3,2823.1L986.6,2806.0L988.8,2772.6L989.4,2733.7L992.2,2462.5L992.3,2448.0L995.0,2094.9L995.8,2067.2L997.8,2226.3L999.3,2443.8L1000.6,2614.8L1002.8,2758.3L1003.4,2784.2L1006.2,2816.8L1006.3,2806.1L1009.0,2809.9L1011.8,2816.9L1014.6,2824.2L1017.4,2808.7L1020.2,2822.1L1023.0,2814.8L1025.8,2811.7L1028.6,2810.3L1030.0,2812.0L1031.4,2821.9L1034.2,2803.7L1037.0,2804.3L1039.8,2796.5L1041.0,2807.1L1042.6,2786.6L1045.4,2784.9L1048.2,2751.6L1051.0,2732.2L1052.0,2720.1L1053.8,2695.6L1056.6,2647.2L1059.4,2612.5L1062.2,2593.1L1063.0,2596.5L1065.0,2600.0L1067.8,2624.8L1070.6,2669.6L1073.4,2703.2L1074.0,2708.0L1076.2,2740.6L1079.0,2767.0L1081.8,2781.9L1082.8,2787.8L1084.6,2776.5L1085.0,2772.0L1086.1,2762.1L1087.4,2719.9L1089.3,2570.9L1090.2,2495.1L1092.6,2341.4L1093.0,2349.2L1095.8,2580.3L1095.8,2583.1L1096.0,2597.3L1098.6,2769.5L1099.1,2776.6L1101.4,2808.9L1102.3,2816.6L1104.2,2814.7L1107.0,2823.3L1109.8,2827.4L1112.6,2822.3L1115.4,2828.4L1118.2,2834.6L1121.0,2840.9L1123.8,2816.1L1126.6,2845.7L1129.4,2843.9L1132.2,2831.2L1135.0,2831.3L1137.8,2851.8L1140.6,2838.5L1143.4,2848.3L1146.2,2842.7L1149.0,2854.8L1151.8,2855.1L1154.6,2849.9L1157.4,2844.3L1160.2,2861.4L1163.0,2845.2L1165.8,2859.0L1168.6,2842.9L1171.4,2862.1L1174.2,2855.8L1177.0,2840.2L1179.8,2838.9L1182.6,2851.5L1185.4,2839.8L1188.2,2837.2L1191.0,2833.6L1193.8,2848.3L1196.6,2846.7L1199.4,2849.0L1202.2,2863.8L1205.0,2846.0L1207.8,2859.4L1210.6,2863.1L1213.4,2864.2L1216.2,2864.1L1219.0,2864.1L1221.8,2862.3L1224.6,2844.5L1227.4,2843.8L1230.2,2843.0L1233.0,2840.4L1235.8,2849.2L1238.6,2840.6L1241.4,2832.6L1244.2,2841.8L1247.0,2830.8L1249.8,2843.9L1252.6,2843.0L1255.4,2853.2L1258.2,2851.7L1261.0,2853.3L1263.8,2855.6L1266.6,2851.8L1269.4,2857.9L1272.2,2862.0L1275.0,2856.7L1277.8,2860.5L1280.6,2854.5L1283.4,2870.2L1286.2,2846.0L1289.0,2865.0L1291.8,2848.6L1294.6,2857.6L1297.4,2862.9L1300.2,2840.7L1303.0,2848.2L1305.8,2843.2L1308.6,2857.3L1311.4,2860.2L1314.2,2852.5L1317.0,2863.0L1319.8,2847.5L1322.6,2851.7L1325.4,2851.6L1328.2,2852.4L1331.0,2857.5L1333.8,2851.4L1336.6,2849.8L1339.4,2865.6L1342.2,2846.7L1345.0,2859.0L1347.8,2858.2L1350.6,2853.7L1353.4,2853.3L1356.2,2873.7L1359.0,2858.2L1361.8,2859.1L1364.6,2857.0L1367.4,2858.1L1370.2,2850.1L1373.0,2851.8L1374.2,2867.0L1375.8,2844.8L1377.0,2830.4L1378.6,2821.1L1379.8,2802.0L1381.4,2765.8L1382.5,2748.0L1384.2,2775.2L1385.2,2795.9L1387.0,2848.1L1388.0,2840.2L1389.8,2859.0L1390.8,2848.3L1392.6,2848.9L1395.4,2866.1L1398.2,2859.4L1401.0,2860.2L1403.8,2848.3L1406.6,2852.0L1409.4,2848.7L1412.2,2847.3L1415.0,2836.6L1417.8,2860.6L1420.6,2845.1L1423.4,2855.5L1426.2,2849.7L1429.0,2851.2L1431.8,2840.7L1434.6,2848.3L1437.4,2849.5L1440.2,2839.3L1442.7,2847.8L1443.0,2843.1L1445.8,2856.1L1448.6,2848.4L1451.4,2843.7L1454.2,2843.6L1455.7,2846.8L1457.0,2826.7L1459.8,2822.1L1462.6,2818.7L1465.4,2806.6L1468.2,2793.7L1468.7,2795.4L1471.0,2767.0L1473.8,2755.0L1476.6,2747.6L1479.4,2730.3L1481.7,2726.6L1482.2,2728.6L1485.0,2725.1L1487.8,2744.6L1490.6,2768.8L1493.4,2770.0L1494.7,2794.3L1496.2,2799.7L1499.0,2814.1L1501.8,2830.7L1504.6,2826.2L1507.4,2827.3L1507.7,2842.7L1510.2,2830.9L1513.0,2846.1L1515.8,2841.8L1518.5,2838.8L1518.6,2840.4L1520.7,2825.3L1521.4,2820.8L1522.0,2821.4L1524.2,2761.1L1525.5,2715.8L1527.0,2646.7L1529.0,2590.9L1529.8,2599.0L1532.5,2723.0L1532.6,2719.7L1535.4,2819.3L1536.0,2816.7L1538.2,2836.7L1539.5,2848.2L1541.0,2838.4L1543.8,2837.9L1546.6,2851.4L1549.4,2842.1L1552.2,2836.4L1555.0,2841.1L1557.8,2857.0L1560.6,2846.0L1563.4,2848.5L1566.2,2865.6L1569.0,2847.2L1571.8,2855.0L1574.6,2855.7L1577.4,2862.8L1580.2,2856.9L1583.0,2855.7L1585.8,2851.6L1588.6,2860.8L1591.4,2843.3L1594.2,2844.8L1597.0,2852.2L1599.8,2855.6L1602.6,2854.8L1605.4,2844.7L1608.2,2867.1L1611.0,2844.8L1613.8,2862.6L1616.6,2872.2L1619.4,2861.5L1622.2,2855.0L1625.0,2853.3L1627.8,2864.0L1630.6,2867.4L1633.4,2868.9L1636.2,2853.1L1639.0,2871.3L1641.8,2863.3L1644.6,2856.8L1647.4,2869.4L1650.2,2864.7L1653.0,2864.6L1655.8,2871.1L1658.6,2868.4L1661.4,2855.2L1664.2,2860.7L1667.0,2848.9L1669.8,2865.1L1672.6,2862.2L1675.4,2864.1L1678.2,2849.1L1681.0,2864.2L1683.8,2843.0L1686.6,2843.1L1689.4,2848.0L1692.2,2853.2L1693.0,2845.7L1695.0,2831.6L1696.8,2842.1L1697.8,2827.0L1700.5,2757.4L1700.6,2763.9L1703.4,2696.1L1704.3,2683.7L1706.2,2714.7L1708.0,2767.9L1709.0,2793.8L1711.8,2831.7L1714.6,2832.3L1715.5,2843.6L1717.4,2839.3L1720.2,2840.4L1723.0,2843.8L1725.8,2848.0L1728.6,2847.8L1731.4,2852.7L1734.2,2836.9L1737.0,2850.1L1739.8,2845.9L1739.8,2844.9L1742.6,2828.2L1743.1,2825.7L1745.4,2819.0L1746.3,2821.1L1748.2,2798.1L1749.6,2795.5L1751.0,2800.9L1752.8,2808.9L1753.8,2820.4L1756.1,2846.9L1756.6,2832.4L1759.3,2846.3L1759.4,2836.9L1762.2,2841.6L1765.0,2845.3L1767.8,2848.0L1770.6,2851.1L1773.4,2843.0L1776.2,2851.5L1779.0,2841.2L1781.8,2847.2L1784.6,2836.2L1787.4,2835.1L1790.2,2833.1L1793.0,2848.1L1795.8,2842.4L1798.6,2839.9L1800.2,2837.2L1801.4,2811.8L1804.0,2821.5L1804.2,2811.7L1807.0,2752.7L1807.8,2715.9L1809.8,2638.3L1811.5,2603.2L1812.6,2612.6L1815.2,2722.9L1815.4,2727.5L1816.0,2743.7L1818.2,2800.7L1819.0,2806.5L1821.0,2814.2L1822.8,2818.3L1823.0,2818.2L1823.8,2825.0L1826.6,2833.0L1829.4,2825.0L1830.0,2818.8L1832.2,2820.9L1835.0,2798.4L1837.0,2811.7L1837.8,2812.9L1840.6,2810.6L1843.4,2818.5L1844.0,2831.8L1846.2,2827.0L1849.0,2829.5L1851.0,2837.3L1851.8,2859.0L1854.6,2852.0L1857.4,2857.1L1858.0,2856.1L1860.2,2853.0L1863.0,2847.4L1865.8,2842.9L1868.6,2867.1L1871.4,2862.1L1874.2,2862.1L1877.0,2858.4L1879.8,2858.0L1882.6,2847.2L1885.4,2864.2L1888.2,2848.9L1891.0,2860.7L1891.0,2853.5L1893.8,2841.9L1894.3,2838.8L1896.6,2820.2L1897.5,2805.9L1899.4,2784.9L1900.8,2778.2L1902.2,2772.2L1904.0,2812.6L1905.0,2821.4L1907.3,2847.5L1907.8,2851.5L1910.5,2850.7L1910.6,2855.0L1913.4,2849.6L1916.2,2842.6L1919.0,2858.2L1921.8,2841.4L1924.6,2840.7L1927.4,2837.7L1930.2,2835.3L1933.0,2837.8L1935.8,2850.6L1938.6,2848.4L1941.4,2842.1L1944.2,2837.6L1947.0,2856.3L1949.8,2853.2L1952.6,2858.1" fill="none" stroke="#ff3030" stroke-opacity="0.68" stroke-width="2.2" stroke-linejoin="miter" stroke-miterlimit="3" stroke-linecap="butt"/>
</g>
<rect x="343" y="1716" width="1616" height="4" fill="#d6d6d6"/>
<rect x="351" y="1724" width="1600" height="4" fill="#d0d0d0"/>
<rect x="343" y="1720" width="1616" height="4" fill="#000"/>
<rect x="1951" y="1724" width="4" height="1292" fill="#adadad"/>
<rect x="1959" y="1720" width="4" height="1304" fill="#f5f5f5"/>
<rect x="1955" y="1720" width="4" height="1304" fill="#000"/>
<rect x="343" y="3020" width="1616" height="4" fill="#787878"/>
<rect x="343" y="3016" width="1612" height="4" fill="#2a2a2a"/>
<rect x="347" y="1724" width="4" height="1307" fill="#787878"/>
<rect x="343" y="1720" width="4" height="1311" fill="#2d2d2d"/>
<rect x="347" y="3016" width="4" height="4" fill="#111"/>
<rect x="554.5" y="3024" width="12" height="19" fill="#d8d8d8"/>
<rect x="554.5" y="3043" width="12" height="4" fill="#f2f2f2"/>
<rect x="558.5" y="3020" width="4" height="23" fill="#000"/>
<rect x="558.5" y="3043" width="4" height="4" fill="#aaa"/>
<rect x="986.5" y="3020" width="7" height="23" fill="#444"/>
<rect x="986.5" y="3043" width="7" height="4" fill="#ccc"/>
<rect x="1413.5" y="3024" width="12" height="19" fill="#d8d8d8"/>
<rect x="1413.5" y="3043" width="12" height="4" fill="#f2f2f2"/>
<rect x="1417.5" y="3020" width="4" height="23" fill="#000"/>
<rect x="1417.5" y="3043" width="4" height="4" fill="#aaa"/>
<rect x="1845.5" y="3020" width="7" height="23" fill="#444"/>
<rect x="1845.5" y="3043" width="7" height="4" fill="#ccc"/>
<rect x="770.5" y="3024" width="4" height="7" fill="#aaa"/>
<rect x="774" y="3020" width="4" height="11" fill="#000"/>
<rect x="770.5" y="3031" width="7" height="3" fill="#e4e4e4"/>
<rect x="1199.5" y="3024" width="4" height="7" fill="#aaa"/>
<rect x="1203" y="3020" width="4" height="11" fill="#000"/>
<rect x="1199.5" y="3031" width="7" height="3" fill="#e4e4e4"/>
<rect x="1629" y="3024" width="4" height="7" fill="#aaa"/>
<rect x="1632.5" y="3020" width="4" height="11" fill="#000"/>
<rect x="1629" y="3031" width="7" height="3" fill="#e4e4e4"/>
<rect x="1421" y="1794.8" width="411" height="316.4" fill="#fff" stroke="#999" stroke-width="4"/>
<rect x="1835" y="1797" width="3" height="318" fill="#ececec"/>
<rect x="1421" y="2115" width="417" height="3" fill="#ececec"/>
<g filter="url(#soft)">
<text transform="translate(0,3110.5) scale(0.86,1)" x="636.16 667.09" y="0" font-family='"Liberation Serif", "DejaVu Serif", serif' font-size="63.5" fill="#555" text-anchor="middle">20</text>
<text transform="translate(0,3110.5) scale(0.86,1)" x="1135.58 1166.51" y="0" font-family='"Liberation Serif", "DejaVu Serif", serif' font-size="63.5" fill="#555" text-anchor="middle">40</text>
<text transform="translate(0,3110.5) scale(0.86,1)" x="1635.00 1665.93" y="0" font-family='"Liberation Serif", "DejaVu Serif", serif' font-size="63.5" fill="#555" text-anchor="middle">60</text>
<text transform="translate(0,3110.5) scale(0.86,1)" x="2134.42 2165.35" y="0" font-family='"Liberation Serif", "DejaVu Serif", serif' font-size="63.5" fill="#555" text-anchor="middle">80</text>
<text transform="translate(0,3196.5) scale(1,1)" x="931.20 964.96 998.72 1032.48 1066.24 1100.00 1138.76 1167.52 1201.28 1235.04 1268.80 1302.56 1336.32 1364.08" y="0 0 0 0 0 0 -6 0 0 0 0 0 0 -6" font-family='"Liberation Serif", "DejaVu Serif", serif' font-size="68" fill="#3a3a3a" text-anchor="middle">2theta(degree)</text>
<text transform="translate(293.2,2621.7) rotate(-90) scale(1,1)" x="16.70 50.10 83.50 116.90 150.30 183.70 217.10 250.50 286.90 324.80 350.70 379.10 419.00 446.40 482.80" y="0 0 0 0 0 0 0 0 0 -6 0 0 0 0 -6" font-family='"Liberation Serif", "DejaVu Serif", serif' font-size="68" fill="#3a3a3a" text-anchor="middle">Intensity(a.u.)</text>
<polygon points="1457.8,1827.7 1464.0,1845.3 1482.8,1845.7 1467.8,1856.9 1473.3,1874.7 1457.8,1864.1 1442.3,1874.7 1447.8,1856.9 1432.8,1845.7 1451.6,1845.3" fill="#000"/>
<text transform="translate(0,1874.5) scale(0.74,1)" x="2029.59 2074.86 2120.14 2165.41" y="0" font-family='"Liberation Serif", "DejaVu Serif", serif' font-size="72" fill="#333" text-anchor="middle">PTFE</text>
<polygon points="1682.8,1826.9 1709.7,1874.5 1656.0,1874.5" fill="#000"/>
<text transform="translate(0,1874.5) scale(0.74,1)" x="2335.81 2381.08" y="0" font-family='"Liberation Serif", "DejaVu Serif", serif' font-size="72" fill="#333" text-anchor="middle">Al</text>
<polygon points="1438.9,1927.7 1476.5,1927.7 1457.7,1969.7" fill="none" stroke="#222" stroke-width="4.5" stroke-linejoin="miter"/>
<rect x="1437.9" y="1924.7" width="39.6" height="5" fill="#333"/>
<text transform="translate(0,1972.5) scale(0.74,1)" x="2029.59 2074.86 2120.14" y="0" font-family='"Liberation Serif", "DejaVu Serif", serif' font-size="72" fill="#333" text-anchor="middle">CuO</text>
<path d="M1663.0,1939.5L1690.0,1966.5M1690.0,1939.5L1663.0,1966.5" stroke="#2a2a2a" stroke-width="3.8" fill="none"/>
<text transform="translate(0,1972.5) scale(0.74,1)" font-family='"Liberation Serif", "DejaVu Serif", serif' font-size="72" fill="#333" text-anchor="middle"><tspan x="2317.57 2362.84 2408.11" y="0">AlF</tspan><tspan x="2450.00" y="18.5" font-size="46">3</tspan></text>
<path d="M1433.5,2055.0L1473.5,2055.0M1440.1,2042.9L1466.9,2067.1M1453.5,2037.0L1453.5,2073.0M1466.9,2042.9L1440.1,2067.1" stroke="#3c3c3c" stroke-width="3.0" fill="none"/>
<circle cx="1453.5" cy="2055.0" r="3.2" fill="#151515"/>
<text transform="translate(0,2078.8) scale(0.74,1)" font-family='"Liberation Serif", "DejaVu Serif", serif' font-size="72" fill="#333" text-anchor="middle"><tspan x="2014.86 2056.76" y="0">Al</tspan><tspan x="2101.35" y="19.8" font-size="46">2</tspan><tspan x="2141.89" y="0">O</tspan><tspan x="2180.41" y="19.8" font-size="46">3</tspan></text>
<polygon points="1685.2,2033.5 1707.2,2055.5 1685.2,2077.5 1663.2,2055.5" fill="none" stroke="#1c1c1c" stroke-width="3.4" stroke-linejoin="miter"/>
<text transform="translate(0,2078.8) scale(0.74,1)" x="2340.54 2385.81 2431.08" y="0" font-family='"Liberation Serif", "DejaVu Serif", serif' font-size="72" fill="#333" text-anchor="middle">NiO</text>
<polygon points="523.5,2096.1 529.6,2112.9 548.0,2113.3 533.3,2124.1 538.6,2141.1 523.5,2130.9 508.4,2141.1 513.7,2124.1 499.0,2113.3 517.4,2112.9" fill="#000"/>
<polygon points="954.2,1734.7 981.2,1781.0 927.3,1781.0" fill="#000"/>
<polygon points="1091.0,2263.7 1118.3,2311.0 1063.7,2311.0" fill="#000"/>
<polygon points="1527.4,2508.3 1553.8,2554.6 1501.0,2554.6" fill="#000"/>
<polygon points="1807.8,2527.0 1834.0,2573.4 1781.7,2573.4" fill="#000"/>
<polygon points="1898.0,2697.8 1924.0,2744.7 1872.0,2744.7" fill="#000"/>
<polygon points="929.8,2597.3 950.8,2618.3 929.8,2639.3 908.8,2618.3" fill="none" stroke="#1c1c1c" stroke-width="3.8" stroke-linejoin="miter"/>
<polygon points="1059.4,2516.7 1080.4,2537.7 1059.4,2558.7 1038.4,2537.7" fill="none" stroke="#1c1c1c" stroke-width="3.8" stroke-linejoin="miter"/>
<polygon points="1480.0,2651.0 1501.0,2672.0 1480.0,2693.0 1459.0,2672.0" fill="none" stroke="#1c1c1c" stroke-width="3.8" stroke-linejoin="miter"/>
<polygon points="1755.0,2718.4 1776.0,2739.4 1755.0,2760.4 1734.0,2739.4" fill="none" stroke="#1c1c1c" stroke-width="3.8" stroke-linejoin="miter"/>
<polygon points="1853.0,2737.0 1874.0,2758.0 1853.0,2779.0 1832.0,2758.0" fill="none" stroke="#1c1c1c" stroke-width="3.8" stroke-linejoin="miter"/>
<path d="M975.8,2028.0L1016.8,2028.0M982.5,2014.9L1010.1,2041.1M996.3,2008.5L996.3,2047.5M1010.1,2014.9L982.5,2041.1" stroke="#3c3c3c" stroke-width="3.0" fill="none"/>
<circle cx="996.3" cy="2028.0" r="3.2" fill="#151515"/>
<path d="M1687.2,2644.3L1728.2,2644.3M1693.9,2631.2L1721.5,2657.4M1707.7,2624.8L1707.7,2663.8M1721.5,2631.2L1693.9,2657.4" stroke="#3c3c3c" stroke-width="3.0" fill="none"/>
<circle cx="1707.7" cy="2644.3" r="3.2" fill="#151515"/>
<path d="M1371.8,2688.7L1398.8,2715.7M1398.8,2688.7L1371.8,2715.7" stroke="#2a2a2a" stroke-width="3.8" fill="none"/>
<text x="36 71 126" y="1842.4" font-family='"Liberation Sans", "DejaVu Sans", sans-serif' font-size="105" fill="#0a0a0a">(c)</text>
</g>
</g>
</svg>
</body></html>
